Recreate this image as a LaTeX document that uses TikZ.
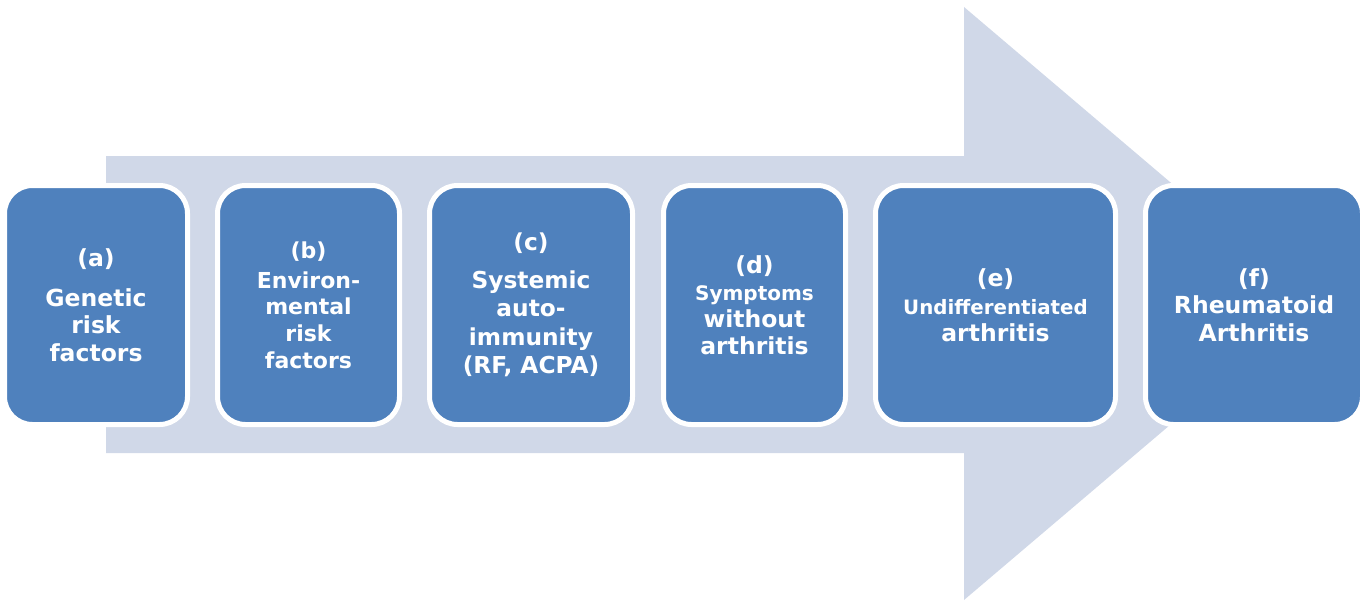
\documentclass[tikz,border=0pt]{standalone}
\usepackage{fontspec}
\setmainfont{DejaVu Sans}
\definecolor{boxblue}{HTML}{4F81BD}
\definecolor{arrowfill}{HTML}{D0D8E8}
\begin{document}
\begin{tikzpicture}[x=1pt,y=-1pt,
  stagebox/.style={draw=white, line width=5pt, fill=boxblue, rounded corners=28pt,
    minimum height=239pt, text=white, align=center, inner sep=0pt,
    font=\bfseries\fontsize{23.5}{27.5}\selectfont}]
\useasboundingbox (0,0) rectangle (1364,602);
\fill[arrowfill] (106,156) -- (964,156) -- (964,7) -- (1313,303.5) -- (964,600) -- (964,453) -- (106,453) -- cycle;
\node[stagebox, minimum width=183pt] (a) at (96,305)
  {(a)\\[12.5pt]Genetic\\risk\\factors};
\node[stagebox, minimum width=182pt, font=\bfseries\fontsize{22}{26.7}\selectfont] (b) at (308.5,305)
  {(b)\\[3.3pt]Environ-\\mental\\risk\\factors};
\node[stagebox, minimum width=203pt, font=\bfseries\fontsize{23.3}{28.3}\selectfont] (c) at (531,305)
  {(c)\\[9.5pt]Systemic\\auto-\\immunity\\(RF, ACPA)};
\node[stagebox, minimum width=182pt, font=\bfseries\fontsize{23.5}{27}\selectfont] (d) at (754.5,305)
  {(d)\\{\fontsize{20}{27}\selectfont Symptoms}\\without\\arthritis};
\node[stagebox, minimum width=240pt, font=\bfseries\fontsize{23.5}{26.5}\selectfont] (e) at (995.5,305)
  {(e)\\[2pt]{\fontsize{19.8}{26.5}\selectfont Undifferentiated}\\arthritis};
\node[stagebox, minimum width=217pt, font=\bfseries\fontsize{23.5}{27.5}\selectfont] (f) at (1254,305)
  {(f)\\Rheumatoid\\Arthritis};
\end{tikzpicture}
\end{document}
